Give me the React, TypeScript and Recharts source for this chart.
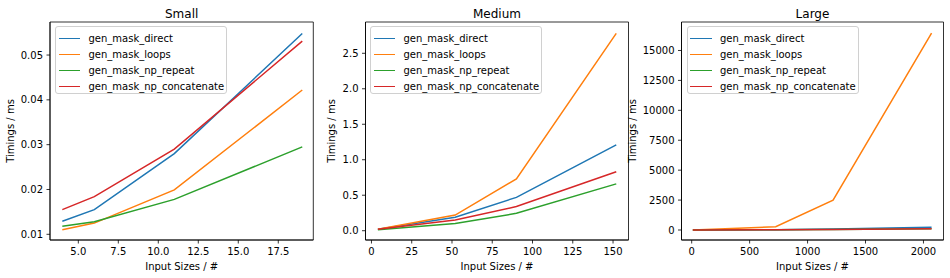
import { LineChart, Line, XAxis, YAxis, Legend, ReferenceArea } from "recharts";

const FONT = "DejaVu Sans, sans-serif";

// Small inputs
const smallSizes = [4, 6, 11, 19];
const smallDirect = [0.0129, 0.0155, 0.028, 0.0548];
const smallLoops = [0.011, 0.0125, 0.0199, 0.0422];
const smallRepeat = [0.0118, 0.0128, 0.0178, 0.0295];
const smallConcat = [0.0155, 0.0184, 0.029, 0.0531];

// Medium inputs
const mediumSizes = [4, 52, 90, 152];
const mediumDirect = [0.02, 0.19, 0.47, 1.21];
const mediumLoops = [0.02, 0.22, 0.73, 2.78];
const mediumRepeat = [0.015, 0.1, 0.245, 0.66];
const mediumConcat = [0.02, 0.15, 0.34, 0.83];

// Large inputs
const largeSizes = [10, 725, 1220, 2070];
const largeDirect = [0.02, 28, 78, 230];
const largeLoops = [0.02, 276, 2500, 16460];
const largeRepeat = [0.02, 14, 38, 95];
const largeConcat = [0.02, 18, 45, 110];

const smallXTicks = [5, 7.5, 10, 12.5, 15, 17.5];
const smallYTicks = [0.01, 0.02, 0.03, 0.04, 0.05];
const mediumXTicks = [0, 25, 50, 75, 100, 125, 150];
const mediumYTicks = [0, 0.5, 1, 1.5, 2, 2.5];
const largeXTicks = [0, 500, 1000, 1500, 2000];
const largeYTicks = [0, 2500, 5000, 7500, 10000, 12500, 15000];

const series = [
  { key: "direct", name: "gen_mask_direct", color: "#1f77b4" },
  { key: "loops", name: "gen_mask_loops", color: "#ff7f0e" },
  { key: "repeat", name: "gen_mask_np_repeat", color: "#2ca02c" },
  { key: "concat", name: "gen_mask_np_concatenate", color: "#d62728" },
];

const buildRows = (
  sizes: number[],
  direct: number[],
  loops: number[],
  repeat: number[],
  concat: number[]
) =>
  sizes.map((x, i) => ({
    x,
    direct: direct[i],
    loops: loops[i],
    repeat: repeat[i],
    concat: concat[i],
  }));

const panels = [
  {
    title: "Small",
    rows: buildRows(smallSizes, smallDirect, smallLoops, smallRepeat, smallConcat),
    xDomain: [3.23, 19.69],
    yDomain: [0.00873, 0.05737],
    xTicks: smallXTicks,
    yTicks: smallYTicks,
    xFmt: (v: number) => v.toFixed(1),
    yFmt: (v: number) => v.toFixed(2),
    left: 0,
    width: 320,
    plotRight: 313.3,
    yAxisWidth: 50,
    ylabelDx: 10.5,
    legendLeft: 55,
  },
  {
    title: "Medium",
    rows: buildRows(mediumSizes, mediumDirect, mediumLoops, mediumRepeat, mediumConcat),
    xDomain: [-3.7, 159.6],
    yDomain: [-0.131, 2.941],
    xTicks: mediumXTicks,
    yTicks: mediumYTicks,
    xFmt: (v: number) => String(v),
    yFmt: (v: number) => v.toFixed(1),
    left: 320,
    width: 316,
    plotRight: 628.5,
    yAxisWidth: 45.5,
    ylabelDx: 11.7,
    legendLeft: 50,
  },
  {
    title: "Large",
    rows: buildRows(largeSizes, largeDirect, largeLoops, largeRepeat, largeConcat),
    xDomain: [-88, 2173],
    yDomain: [-835, 17380],
    xTicks: largeXTicks,
    yTicks: largeYTicks,
    xFmt: (v: number) => String(v),
    yFmt: (v: number) => String(v),
    left: 626,
    width: 324,
    plotRight: 943.5,
    yAxisWidth: 55.5,
    ylabelDx: 6.2,
    legendLeft: 60.5,
  },
];

const tickStyle = { fontSize: 10, fill: "#000", fontFamily: FONT };

function renderLegend() {
  return (
    <div
      style={{
        width: 172,
        height: 68,
        boxSizing: "border-box",
        border: "1px solid #d0d0d0",
        borderRadius: 3,
        background: "rgba(255,255,255,0.8)",
        padding: "3px 0 0 2.5px",
        fontFamily: FONT,
        fontSize: 10,
        color: "#000",
      }}
    >
      {series.map((s) => (
        <div key={s.key} style={{ display: "flex", alignItems: "center", height: 16 }}>
          <span
            style={{
              display: "inline-block",
              width: 21.5,
              borderTop: `1.5px solid ${s.color}`,
              marginRight: 8.5,
            }}
          />
          <span>{s.name}</span>
        </div>
      ))}
    </div>
  );
}

function Panel(p: (typeof panels)[number]) {
  const yLabel = (props: any) => {
    const vb = props.viewBox;
    const cx = vb.x + p.ylabelDx;
    const cy = vb.y + vb.height / 2;
    return (
      <text
        x={cx}
        y={cy}
        transform={`rotate(-90, ${cx}, ${cy})`}
        textAnchor="middle"
        dominantBaseline="central"
        fontSize={10}
        fontFamily={FONT}
        fill="#000"
      >
        Timings / ms
      </text>
    );
  };
  const xLabel = (props: any) => {
    const vb = props.viewBox;
    return (
      <text
        x={vb.x + vb.width / 2}
        y={vb.y + 26.5}
        textAnchor="middle"
        dominantBaseline="central"
        fontSize={10}
        fontFamily={FONT}
        fill="#000"
      >
        Input Sizes / #
      </text>
    );
  };
  const titleLabel = (props: any) => {
    const vb = props.viewBox;
    return (
      <text
        x={vb.x + vb.width / 2}
        y={18}
        textAnchor="middle"
        fontSize={12}
        fontFamily={FONT}
        fill="#000"
      >
        {p.title}
      </text>
    );
  };

  return (
    <div style={{ position: "absolute", left: p.left, top: 0 }}>
      <LineChart
        width={p.width}
        height={278}
        data={p.rows}
        margin={{ top: 22, right: p.left + p.width - p.plotRight, bottom: 0, left: 0 }}
      >
        <XAxis
          dataKey="x"
          type="number"
          domain={p.xDomain}
          ticks={p.xTicks}
          tickFormatter={p.xFmt}
          allowDataOverflow
          height={38}
          tick={tickStyle}
          tickSize={3.5}
          tickMargin={4.5}
          tickLine={{ stroke: "#000", strokeWidth: 0.8 }}
          axisLine={{ stroke: "#000", strokeWidth: 0.8 }}
          label={xLabel}
        />
        <YAxis
          type="number"
          domain={p.yDomain}
          ticks={p.yTicks}
          tickFormatter={p.yFmt}
          allowDataOverflow
          width={p.yAxisWidth}
          tick={tickStyle}
          tickSize={3.5}
          tickMargin={3.5}
          tickLine={{ stroke: "#000", strokeWidth: 0.8 }}
          axisLine={{ stroke: "#000", strokeWidth: 0.8 }}
          label={yLabel}
        />
        <ReferenceArea
          x1={p.xDomain[0]}
          x2={p.xDomain[1]}
          y1={p.yDomain[0]}
          y2={p.yDomain[1]}
          fill="none"
          fillOpacity={0}
          stroke="#000"
          strokeWidth={0.8}
          strokeOpacity={1}
          ifOverflow="visible"
          label={titleLabel}
        />
        <Legend
          layout="vertical"
          align="center"
          verticalAlign="middle"
          content={renderLegend}
          wrapperStyle={{ left: p.legendLeft, top: 26, width: "auto", height: "auto" }}
        />
        {series.map((s) => (
          <Line
            key={s.key}
            dataKey={s.key}
            name={s.name}
            stroke={s.color}
            strokeWidth={1.5}
            dot={false}
            activeDot={false}
            type="linear"
            isAnimationActive={false}
          />
        ))}
      </LineChart>
    </div>
  );
}

export default function App() {
  return (
    <div
      style={{
        position: "absolute",
        left: 0,
        top: 0,
        width: 950,
        height: 278,
        background: "#fff",
        fontFamily: FONT,
      }}
    >
      {panels.map((p) => (
        <Panel key={p.title} {...p} />
      ))}
    </div>
  );
}
